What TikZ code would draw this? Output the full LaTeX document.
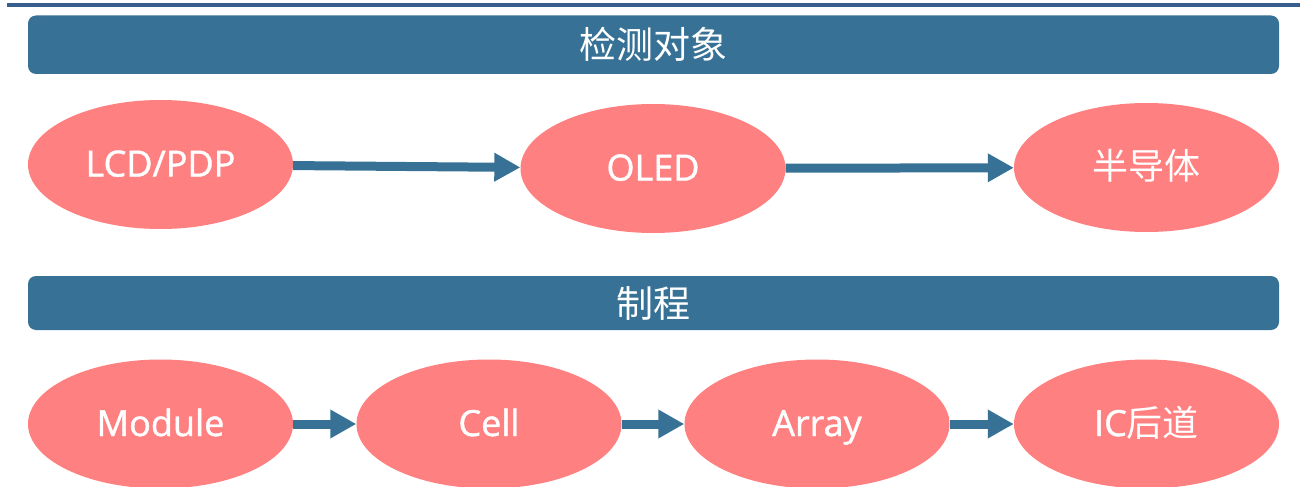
\documentclass[tikz,border=0pt]{standalone}
\usepackage{fontspec}
\setmainfont{Open Sans}
\newfontfamily\ovalfont{Open Sans}[FakeBold=1.2]
\newfontfamily\cjk{Noto Sans CJK SC}
\usepackage{xcolor}
\usetikzlibrary{arrows.meta,shapes.geometric}
\definecolor{barblue}{RGB}{55,114,150}
\definecolor{lineblue}{RGB}{56,94,142}
\definecolor{pinkfill}{RGB}{255,128,128}

\begin{document}
\begin{tikzpicture}[x=1pt,y=-1pt,
  banner/.style={fill=barblue,rounded corners=8pt,minimum width=1251pt,inner sep=0pt,
    text=white,font=\cjk\fontsize{37}{40}\selectfont},
  oval/.style={ellipse,fill=pinkfill,minimum width=265pt,minimum height=129pt,inner sep=0pt,
    text=white,text height=26pt,text depth=2pt,font=\ovalfont\fontsize{36}{40}\selectfont},
  flow/.style={barblue,line width=9pt,-{Triangle[length=26pt,width=27pt]}}]
  \useasboundingbox (0,0) rectangle (1302,487);
  \draw[lineblue,line width=4pt] (7,5) -- (1300,5);
  % detection targets
  \node[banner,minimum height=58.5pt] (obj) at (653.5,44.75) {检测对象};
  \node[oval] (lcd) at (160.5,164.5) {LCD/PDP};
  \node[oval] (oled) at (653,168.5) {OLED};
  \node[oval] (semi) at (1146.5,167.5) {\cjk 半导体};
  \draw[flow] (lcd) -- (oled);
  \draw[flow] (oled) -- (semi);
  % process
  \node[banner,minimum height=54pt] (proc) at (653.5,303) {制程};
  \node[oval] (mod) at (160.5,424) {Module};
  \node[oval] (cell) at (489,424) {Cell};
  \node[oval] (arr) at (817,424) {Array};
  \node[oval] (ic) at (1146.5,424) {IC{\cjk 后道}};
  \foreach \a/\b in {mod/cell,cell/arr,arr/ic}{\draw[flow] (\a) -- (\b);}
\end{tikzpicture}
\end{document}
